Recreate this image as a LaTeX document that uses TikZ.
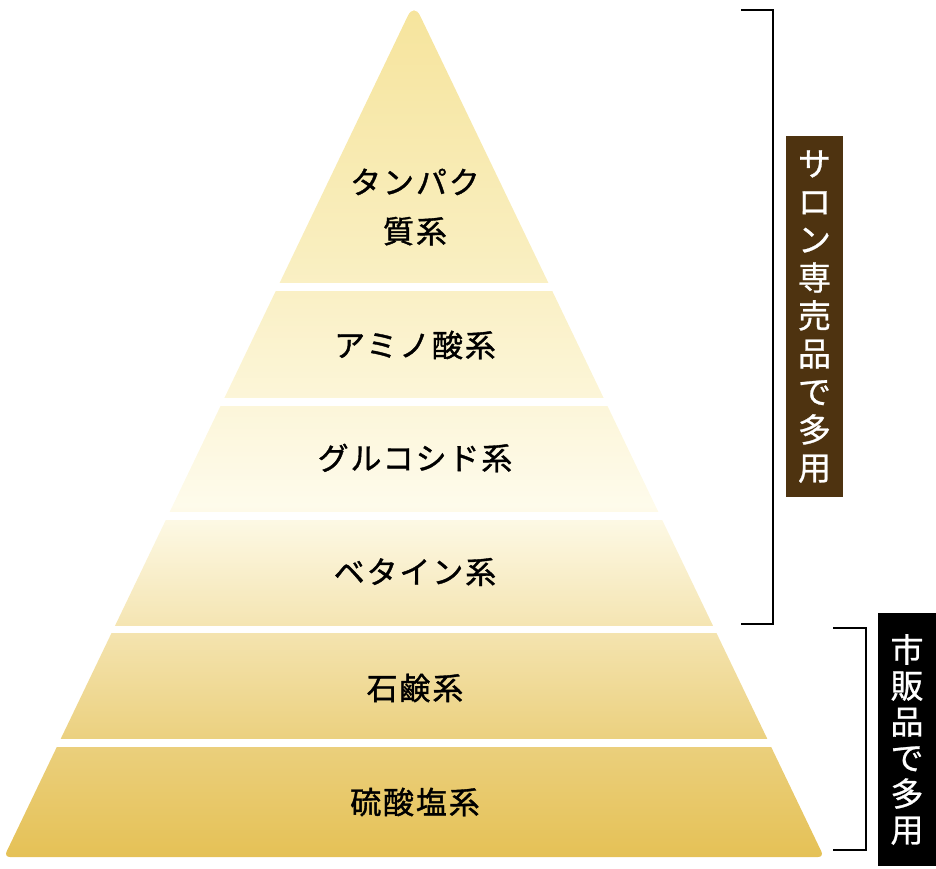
\documentclass[tikz,border=0pt]{standalone}
\usepackage{fontspec}
\newfontfamily\jpfont[LetterSpace=6, FakeBold=1.2]{Noto Sans CJK JP}
\newfontfamily\jpside[FakeBold=0.8]{Noto Sans CJK JP}

\definecolor{goldlow}{HTML}{E5C156}
\definecolor{goldmid}{HTML}{EBD07E}
\definecolor{creamlow}{HTML}{F5E6B5}
\definecolor{creamlight}{HTML}{FEFBEB}
\definecolor{creamhigh}{HTML}{F9EEBE}
\definecolor{yellowtop}{HTML}{F6E49C}
\definecolor{salonbrown}{HTML}{4E3310}

\pgfdeclareverticalshading{pyramidshade}{100bp}{
  color(0bp)=(goldlow); color(25bp)=(goldlow);
  color(31.8bp)=(goldmid); color(38.9bp)=(creamlow);
  color(45.6bp)=(creamlight); color(60.6bp)=(creamhigh);
  color(75bp)=(yellowtop); color(100bp)=(yellowtop)}

\begin{document}
\begin{tikzpicture}[
    x=1pt,
    y=-1pt,
    layer/.style={font=\jpfont\fontsize{31}{49}\selectfont, align=center, inner sep=0pt},
    sidebox/.style={font=\jpside\fontsize{33}{38}\selectfont, text=white,
                    align=center, inner sep=0pt, minimum width=57, minimum height=361},
    bracket/.style={line width=2pt}]

  \useasboundingbox (0,0) rectangle (936,868);

  % Pyramid
  \shade[shading=pyramidshade]
    (414,857) [rounded corners=6] -- (4,857)
    [rounded corners=14] -- (414,3)
    [rounded corners=6] -- (824,857) -- cycle;

  % Gaps between layers
  \foreach \top/\bot in {283/291, 398/406, 512/520, 626/633, 739/747} {
    \fill[white] (0,\top) rectangle (830,\bot);
  }

  % Layer labels
  \foreach \name/\y/\txt in {protein/207/{タンパク\\質系},
                             amino/345/アミノ酸系,
                             glucoside/458/グルコシド系,
                             betaine/572/ベタイン系,
                             soap/688/石鹸系,
                             sulfate/802/硫酸塩系} {
    \node[layer] (\name) at (415,\y) {\txt};
  }

  % Salon bracket
  \draw[bracket] (741,10) -- (773,10) -- (773,624) -- (741,624);
  \node[sidebox, fill=salonbrown] (salon) at (814.5,316.5)
    {サ\\ロ\\ン\\専\\売\\品\\で\\多\\用};

  % Retail bracket
  \draw[bracket] (833,628) -- (866,628) -- (866,850) -- (833,850);
  \node[sidebox, fill=black, minimum width=58, minimum height=253,
        font=\jpside\fontsize{33}{36}\selectfont] (retail) at (907,739.5)
    {市\\販\\品\\で\\多\\用};
\end{tikzpicture}
\end{document}
